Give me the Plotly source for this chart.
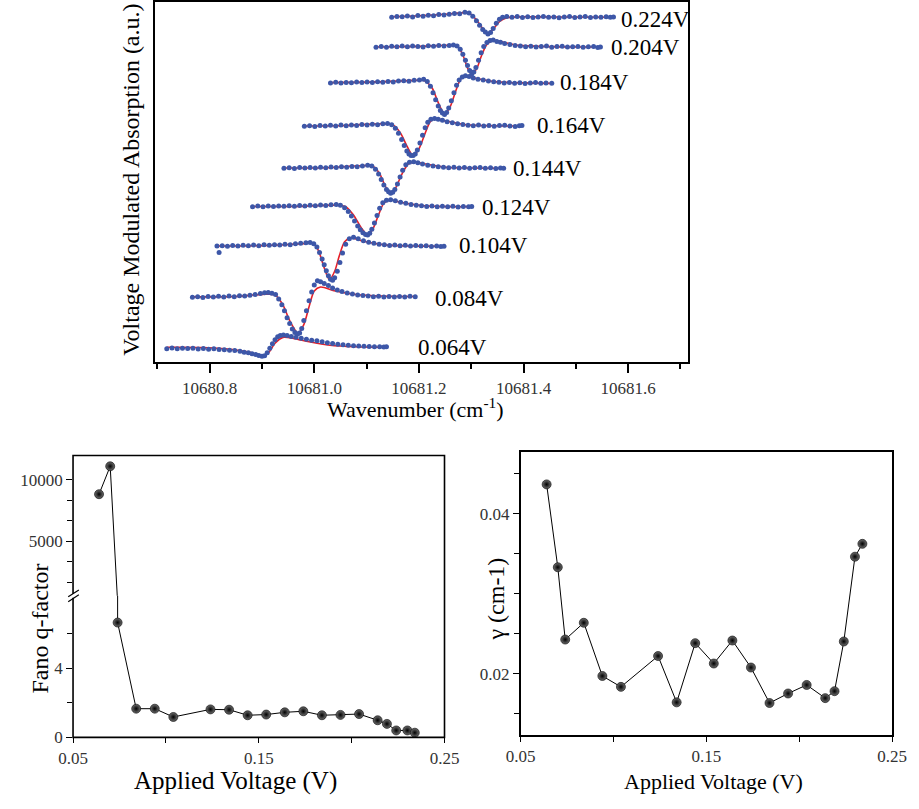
import plotly.graph_objects as go

W, H = 919, 809
FONT = "Liberation Serif"

# ---------------- Top panel: voltage-modulated spectra ----------------
voltage_labels = ["0.224V", "0.204V", "0.184V", "0.164V", "0.144V",
                  "0.124V", "0.104V", "0.084V", "0.064V"]
label_x = [10681.582, 10681.564, 10681.465, 10681.422, 10681.376,
           10681.316, 10681.273, 10681.227, 10681.195]
label_y = [347.7, 319.3, 283.3, 239.3, 196.0, 156.7, 117.7, 64.3, 14.3]

# measured points (blue) and Fano fits (red), absorption in a.u. (traces offset)
dots_x_224 = [10681.148, 10681.158, 10681.168, 10681.178, 10681.188, 10681.198, 10681.208, 10681.218,
              10681.228, 10681.238, 10681.248, 10681.258, 10681.268, 10681.278, 10681.288, 10681.296,
              10681.303, 10681.310, 10681.316, 10681.322, 10681.327, 10681.332, 10681.337, 10681.342,
              10681.348, 10681.354, 10681.360, 10681.368, 10681.378, 10681.388, 10681.398, 10681.408,
              10681.418, 10681.428, 10681.438, 10681.448, 10681.458, 10681.468, 10681.478, 10681.488,
              10681.498, 10681.508, 10681.518, 10681.528, 10681.538, 10681.548, 10681.558, 10681.566,
              10681.572]
dots_y_224 = [349.6, 350.4, 350.0, 350.8, 349.9, 351.2, 350.6, 351.5, 351.0, 352.2, 351.8, 352.6,
              353.4, 353.0, 354.5, 353.8, 350.5, 346.0, 341.5, 337.0, 334.5, 332.5, 334.0, 338.0,
              343.5, 347.5, 349.5, 350.3, 349.6, 350.2, 349.4, 350.0, 349.2, 349.8, 350.4, 349.5,
              349.9, 349.1, 349.7, 350.3, 349.4, 349.8, 350.2, 349.3, 349.9, 349.5, 350.1, 349.6, 349.9]
fit_x_224 = [10681.148, 10681.20, 10681.25, 10681.28, 10681.295, 10681.31, 10681.322, 10681.332,
             10681.342, 10681.355, 10681.37, 10681.40, 10681.45, 10681.572]
fit_y_224 = [350.0, 351.0, 352.5, 354.0, 354.2, 347.0, 338.0, 333.5, 337.5, 345.5, 349.2, 350.0,
             349.8, 349.6]

dots_x_204 = [10681.118, 10681.128, 10681.138, 10681.148, 10681.158, 10681.168, 10681.178, 10681.188,
              10681.198, 10681.208, 10681.218, 10681.228, 10681.238, 10681.248, 10681.258, 10681.266,
              10681.273, 10681.279, 10681.284, 10681.289, 10681.293, 10681.297, 10681.301, 10681.305,
              10681.309, 10681.314, 10681.319, 10681.324, 10681.330, 10681.336, 10681.342, 10681.349,
              10681.356, 10681.364, 10681.374, 10681.384, 10681.394, 10681.404, 10681.414, 10681.424,
              10681.434, 10681.444, 10681.454, 10681.464, 10681.474, 10681.484, 10681.494, 10681.504,
              10681.514, 10681.524, 10681.534, 10681.542, 10681.547]
dots_y_204 = [319.0, 319.8, 319.2, 320.1, 319.5, 320.3, 319.6, 320.4, 320.0, 319.4, 320.6, 320.1,
              320.8, 320.3, 321.0, 321.5, 320.5, 317.0, 312.0, 306.0, 300.5, 295.5, 292.0, 294.0,
              298.5, 306.0, 313.5, 320.0, 324.0, 326.0, 326.5, 325.0, 324.2, 323.0, 321.8, 321.0,
              320.5, 319.6, 320.2, 319.4, 319.9, 320.3, 319.2, 319.8, 320.1, 319.3, 319.7, 320.0,
              319.1, 319.6, 319.9, 318.9, 319.3]
fit_x_204 = [10681.118, 10681.20, 10681.26, 10681.275, 10681.285, 10681.293, 10681.301, 10681.310,
             10681.320, 10681.330, 10681.342, 10681.36, 10681.39, 10681.45, 10681.547]
fit_y_204 = [319.3, 320.0, 321.0, 319.5, 310.0, 298.0, 292.0, 297.0, 311.0, 322.0, 326.0, 324.5,
             321.0, 319.8, 319.3]

dots_x_184 = [10681.031, 10681.041, 10681.051, 10681.061, 10681.071, 10681.081, 10681.091, 10681.101,
              10681.111, 10681.121, 10681.131, 10681.141, 10681.151, 10681.161, 10681.171, 10681.181,
              10681.191, 10681.201, 10681.209, 10681.216, 10681.222, 10681.227, 10681.232, 10681.237,
              10681.241, 10681.245, 10681.249, 10681.253, 10681.257, 10681.262, 10681.267, 10681.272,
              10681.277, 10681.283, 10681.289, 10681.296, 10681.304, 10681.313, 10681.323, 10681.333,
              10681.343, 10681.353, 10681.363, 10681.373, 10681.383, 10681.393, 10681.403, 10681.413,
              10681.423, 10681.433, 10681.443, 10681.454]
dots_y_184 = [283.0, 283.6, 282.8, 283.5, 283.1, 283.9, 283.3, 284.0, 283.4, 284.2, 283.7, 284.5,
              284.0, 284.8, 285.2, 284.6, 285.6, 286.0, 286.7, 284.5, 279.5, 273.0, 266.0, 259.5,
              255.0, 252.5, 251.0, 253.0, 257.5, 265.0, 273.0, 280.5, 286.0, 289.0, 290.3, 289.5,
              288.0, 286.8, 286.0, 285.0, 284.2, 283.6, 283.0, 283.5, 282.7, 283.2, 282.4, 282.9,
              283.3, 282.5, 282.9, 282.6]
fit_x_184 = [10681.031, 10681.12, 10681.19, 10681.21, 10681.225, 10681.237, 10681.249, 10681.260,
             10681.270, 10681.280, 10681.290, 10681.31, 10681.35, 10681.40, 10681.454]
fit_y_184 = [283.3, 284.0, 285.5, 285.5, 278.0, 263.0, 251.5, 259.0, 274.0, 287.0, 290.0, 287.5,
             284.0, 283.0, 282.5]

dots_x_164 = [10680.981, 10680.991, 10681.001, 10681.011, 10681.021, 10681.031, 10681.041, 10681.051,
              10681.061, 10681.071, 10681.081, 10681.091, 10681.101, 10681.111, 10681.121, 10681.131,
              10681.140, 10681.148, 10681.155, 10681.161, 10681.167, 10681.172, 10681.177, 10681.181,
              10681.185, 10681.189, 10681.193, 10681.197, 10681.202, 10681.207, 10681.212, 10681.217,
              10681.223, 10681.230, 10681.237, 10681.245, 10681.254, 10681.264, 10681.274, 10681.284,
              10681.294, 10681.304, 10681.314, 10681.324, 10681.334, 10681.344, 10681.354, 10681.364,
              10681.374, 10681.384, 10681.392, 10681.397]
dots_y_164 = [239.0, 239.6, 238.9, 239.7, 239.2, 240.0, 239.4, 240.2, 239.6, 240.4, 239.9, 240.8,
              240.2, 241.0, 240.6, 241.5, 241.8, 240.5, 237.0, 232.0, 225.5, 219.5, 214.0, 211.0,
              209.5, 209.3, 211.0, 215.0, 222.0, 230.0, 237.5, 243.0, 246.0, 247.0, 246.2, 245.0,
              243.6, 242.5, 241.5, 240.8, 240.0, 239.5, 240.2, 239.3, 239.8, 239.1, 239.7, 240.0,
              239.2, 238.8, 239.6, 239.9]
fit_x_164 = [10680.981, 10681.06, 10681.13, 10681.150, 10681.165, 10681.178, 10681.189, 10681.200,
             10681.212, 10681.222, 10681.232, 10681.25, 10681.29, 10681.34, 10681.397]
fit_y_164 = [239.3, 239.8, 241.5, 240.5, 232.0, 218.0, 209.5, 216.0, 232.0, 244.0, 246.7, 244.5,
             240.5, 239.5, 239.3]

dots_x_144 = [10680.942, 10680.952, 10680.962, 10680.972, 10680.982, 10680.992, 10681.002, 10681.012,
              10681.022, 10681.032, 10681.042, 10681.052, 10681.062, 10681.072, 10681.082, 10681.092,
              10681.102, 10681.110, 10681.117, 10681.123, 10681.128, 10681.133, 10681.138, 10681.142,
              10681.146, 10681.150, 10681.154, 10681.159, 10681.164, 10681.169, 10681.175, 10681.182,
              10681.190, 10681.198, 10681.207, 10681.217, 10681.227, 10681.237, 10681.247, 10681.257,
              10681.267, 10681.277, 10681.287, 10681.297, 10681.307, 10681.317, 10681.327, 10681.337,
              10681.347, 10681.356, 10681.362]
dots_y_144 = [196.4, 197.0, 196.3, 197.1, 196.6, 197.3, 196.8, 197.5, 196.9, 197.6, 197.2, 198.0,
              197.5, 198.3, 198.0, 198.8, 199.4, 198.8, 195.5, 190.5, 185.0, 179.5, 175.0, 172.5,
              171.2, 172.0, 175.0, 180.5, 187.5, 194.5, 200.0, 202.5, 203.0, 202.0, 200.8, 199.6,
              198.8, 198.0, 197.5, 196.9, 197.4, 196.6, 197.2, 196.4, 196.9, 197.3, 196.5, 196.9,
              196.3, 196.8, 196.5]
fit_x_144 = [10680.942, 10681.02, 10681.09, 10681.112, 10681.125, 10681.136, 10681.146, 10681.156,
             10681.167, 10681.180, 10681.192, 10681.21, 10681.25, 10681.30, 10681.362]
fit_y_144 = [196.7, 197.0, 199.0, 198.5, 191.0, 178.0, 171.5, 177.0, 190.0, 201.0, 202.7, 201.0,
             197.5, 196.7, 196.5]

dots_x_124 = [10680.882, 10680.892, 10680.902, 10680.912, 10680.922, 10680.932, 10680.942, 10680.952,
              10680.962, 10680.972, 10680.982, 10680.992, 10681.002, 10681.012, 10681.022, 10681.032,
              10681.042, 10681.050, 10681.058, 10681.065, 10681.071, 10681.077, 10681.083, 10681.088,
              10681.093, 10681.098, 10681.102, 10681.106, 10681.110, 10681.115, 10681.120, 10681.125,
              10681.131, 10681.138, 10681.146, 10681.155, 10681.165, 10681.175, 10681.185, 10681.195,
              10681.205, 10681.215, 10681.225, 10681.235, 10681.245, 10681.255, 10681.265, 10681.275,
              10681.285, 10681.295, 10681.301]
dots_y_124 = [157.5, 158.1, 157.4, 158.2, 157.6, 158.3, 157.8, 158.5, 157.9, 158.6, 158.1, 158.9,
              158.4, 159.2, 158.7, 159.5, 159.8, 159.0, 156.5, 152.5, 148.0, 143.0, 138.0, 134.0,
              131.0, 129.3, 128.8, 130.5, 134.5, 141.0, 148.5, 156.0, 161.5, 164.0, 164.5, 163.5,
              162.0, 161.0, 159.8, 159.0, 158.4, 157.7, 158.3, 157.5, 158.0, 157.3, 157.8, 157.2,
              157.7, 157.3, 157.6]
fit_x_124 = [10680.882, 10680.96, 10681.04, 10681.060, 10681.075, 10681.090, 10681.102, 10681.112,
             10681.122, 10681.133, 10681.145, 10681.165, 10681.21, 10681.26, 10681.301]
fit_y_124 = [157.7, 157.7, 159.0, 157.5, 149.0, 136.0, 129.0, 135.0, 148.0, 161.0, 164.3, 162.0,
             158.5, 157.5, 157.5]

dots_x_104 = [10680.814, 10680.818, 10680.824, 10680.834, 10680.844, 10680.854, 10680.864, 10680.874,
              10680.884, 10680.894, 10680.904, 10680.914, 10680.924, 10680.934, 10680.944, 10680.954,
              10680.964, 10680.974, 10680.984, 10680.992, 10680.999, 10681.005, 10681.010, 10681.015,
              10681.019, 10681.023, 10681.027, 10681.031, 10681.035, 10681.039, 10681.044, 10681.049,
              10681.054, 10681.060, 10681.067, 10681.075, 10681.084, 10681.094, 10681.104, 10681.114,
              10681.124, 10681.134, 10681.144, 10681.154, 10681.164, 10681.174, 10681.184, 10681.194,
              10681.204, 10681.214, 10681.224, 10681.234, 10681.242, 10681.248]
dots_y_104 = [117.5, 111.0, 118.0, 117.4, 118.2, 117.6, 118.4, 117.8, 118.6, 118.0, 118.8, 118.3,
              119.0, 118.6, 119.4, 119.0, 119.8, 120.3, 120.8, 121.2, 120.0, 116.5, 111.0, 104.5,
              98.5, 92.5, 87.5, 84.0, 83.0, 85.5, 92.0, 101.0, 110.5, 119.5, 125.0, 126.5, 125.0,
              123.0, 121.5, 120.3, 119.5, 118.8, 118.2, 118.7, 117.9, 118.4, 117.6, 118.1, 117.5,
              117.9, 117.2, 117.6, 117.0, 117.4]
fit_x_104 = [10680.814, 10680.90, 10680.98, 10680.998, 10681.008, 10681.018, 10681.029, 10681.039,
             10681.048, 10681.058, 10681.070, 10681.09, 10681.14, 10681.20, 10681.248]
fit_y_104 = [117.7, 118.0, 120.0, 120.5, 113.0, 97.0, 83.5, 92.0, 108.0, 122.0, 126.0, 123.0,
             118.5, 117.5, 117.3]

dots_x_084 = [10680.767, 10680.777, 10680.787, 10680.797, 10680.807, 10680.817, 10680.827, 10680.837,
              10680.847, 10680.857, 10680.867, 10680.877, 10680.887, 10680.897, 10680.905, 10680.912,
              10680.919, 10680.926, 10680.932, 10680.938, 10680.943, 10680.948, 10680.953, 10680.958,
              10680.963, 10680.968, 10680.972, 10680.976, 10680.980, 10680.985, 10680.990, 10680.995,
              10681.000, 10681.006, 10681.012, 10681.019, 10681.027, 10681.035, 10681.044, 10681.053,
              10681.063, 10681.073, 10681.083, 10681.093, 10681.103, 10681.113, 10681.123, 10681.133,
              10681.143, 10681.153, 10681.163, 10681.173, 10681.183, 10681.193]
dots_y_084 = [65.7, 66.3, 65.5, 66.4, 65.8, 66.6, 66.0, 66.9, 66.3, 67.2, 66.9, 67.8, 68.5, 69.5,
              70.2, 70.5, 69.8, 68.5, 64.0, 58.0, 52.0, 45.0, 39.0, 33.5, 30.0, 28.5, 29.5, 34.0,
              42.0, 52.0, 62.0, 71.0, 78.0, 82.5, 81.5, 79.5, 77.5, 75.0, 73.0, 71.5, 70.0, 69.0,
              68.0, 67.5, 67.0, 66.3, 66.8, 66.0, 66.5, 65.8, 66.4, 65.9, 66.6, 66.2]
fit_x_084 = [10680.767, 10680.85, 10680.90, 10680.925, 10680.940, 10680.953, 10680.969, 10680.980,
             10680.990, 10681.000, 10681.012, 10681.04, 10681.08, 10681.13, 10681.193]
fit_y_084 = [66.0, 66.5, 68.5, 68.0, 58.0, 42.0, 29.5, 38.0, 56.0, 72.0, 76.0, 72.0, 68.5, 67.0, 66.5]

dots_x_064 = [10680.718, 10680.728, 10680.738, 10680.748, 10680.758, 10680.768, 10680.778, 10680.788,
              10680.798, 10680.808, 10680.818, 10680.828, 10680.838, 10680.848, 10680.858, 10680.866,
              10680.874, 10680.881, 10680.888, 10680.894, 10680.900, 10680.905, 10680.910, 10680.915,
              10680.920, 10680.925, 10680.930, 10680.935, 10680.941, 10680.948, 10680.956, 10680.965,
              10680.975, 10680.985, 10680.995, 10681.005, 10681.015, 10681.025, 10681.035, 10681.045,
              10681.055, 10681.065, 10681.075, 10681.085, 10681.095, 10681.105, 10681.115, 10681.125,
              10681.133, 10681.138]
dots_y_064 = [13.5, 14.2, 13.4, 14.0, 13.6, 13.9, 13.2, 13.7, 13.0, 13.4, 12.8, 12.5, 12.0, 11.6,
              10.8, 10.0, 9.4, 8.4, 7.6, 6.6, 5.8, 6.4, 9.5, 14.0, 18.5, 22.5, 25.5, 27.0, 27.5,
              26.8, 26.0, 25.0, 24.0, 23.0, 22.2, 21.5, 20.5, 19.6, 18.8, 18.0, 17.4, 17.0, 16.6,
              16.2, 16.0, 15.7, 15.4, 15.5, 15.3, 15.6]
fit_x_064 = [10680.718, 10680.78, 10680.84, 10680.875, 10680.900, 10680.912, 10680.925, 10680.940,
             10680.96, 10680.99, 10681.03, 10681.08, 10681.138]
fit_y_064 = [15.0, 14.8, 13.0, 10.0, 6.5, 9.0, 19.0, 25.0, 24.0, 20.5, 17.0, 15.5, 15.0]

spectra = [
    (dots_x_224, dots_y_224, fit_x_224, fit_y_224),
    (dots_x_204, dots_y_204, fit_x_204, fit_y_204),
    (dots_x_184, dots_y_184, fit_x_184, fit_y_184),
    (dots_x_164, dots_y_164, fit_x_164, fit_y_164),
    (dots_x_144, dots_y_144, fit_x_144, fit_y_144),
    (dots_x_124, dots_y_124, fit_x_124, fit_y_124),
    (dots_x_104, dots_y_104, fit_x_104, fit_y_104),
    (dots_x_084, dots_y_084, fit_x_084, fit_y_084),
    (dots_x_064, dots_y_064, fit_x_064, fit_y_064),
]

top_xticks = [10680.8, 10681.0, 10681.2, 10681.4, 10681.6]
top_xticktext = ["10680.8", "10681.0", "10681.2", "10681.4", "10681.6"]

# ---------------- Bottom panels ----------------
voltage = [0.064, 0.070, 0.074, 0.084, 0.094, 0.104, 0.124, 0.134, 0.144, 0.154,
           0.164, 0.174, 0.184, 0.194, 0.204, 0.214, 0.219, 0.224, 0.230, 0.234]
q_factor = [8834, 11109, 6.65, 1.66, 1.66, 1.18, 1.62, 1.60, 1.28, 1.32,
            1.45, 1.51, 1.28, 1.30, 1.35, 0.99, 0.78, 0.40, 0.40, 0.27]
gamma = [0.0437, 0.03333, 0.02428, 0.02638, 0.01972, 0.01836, 0.02222, 0.01642, 0.02383, 0.02128,
         0.02416, 0.02078, 0.01634, 0.01753, 0.0186, 0.01695, 0.01782, 0.02404, 0.03465, 0.03626]

v_ticks = [0.05, 0.15, 0.25]
v_ticktext = ["0.05", "0.15", "0.25"]
q_low_ticks = [0, 4]
q_low_minor = [2, 6]
q_high_ticks = [5000, 10000]
q_high_ticktext = ["5000", "10000"]
q_high_minor = [1667, 3333, 6667, 8333]
g_ticks = [0.02, 0.04]
g_ticktext = ["0.02", "0.04"]

# ---------------- helpers for layout (pixel -> paper) ----------------
def px(x):
    return x / W

def py(y):
    return 1 - y / H

fig = go.Figure()

DOT_BLUE = "#3d57a8"
FIT_RED = "#e5202a"

for dx, dy, fx, fy in spectra:
    fig.add_trace(go.Scatter(x=fx, y=fy, mode="lines",
                             line=dict(color=FIT_RED, width=1.6, shape="spline", smoothing=0.8),
                             xaxis="x", yaxis="y", showlegend=False, hoverinfo="skip"))
    fig.add_trace(go.Scatter(x=dx, y=dy, mode="markers", marker=dict(color=DOT_BLUE, size=5),
                             xaxis="x", yaxis="y", showlegend=False))

sphere = dict(color="#6e6e6e", size=9, gradient=dict(type="radial", color="#000000"),
              line=dict(width=0.6, color="#000000"))

# Fano q-factor: broken axis -> same series on the low and high segments, clipped to each
fig.add_trace(go.Scatter(x=voltage, y=q_factor, mode="lines+markers", line=dict(color="black", width=1),
                         marker=sphere, xaxis="x2", yaxis="y2", showlegend=False))
fig.add_trace(go.Scatter(x=voltage, y=q_factor, mode="lines+markers", line=dict(color="black", width=1),
                         marker=sphere, xaxis="x2", yaxis="y3", showlegend=False))
# gamma
fig.add_trace(go.Scatter(x=voltage, y=gamma, mode="lines+markers", line=dict(color="black", width=1),
                         marker=sphere, xaxis="x3", yaxis="y4", showlegend=False))

tickfont = dict(family=FONT, size=17, color="#333333")

# top panel frame (px)
TL, TR, TT, TB = 145, 696, 1, 366
# bottom-left
BL_L, BL_R, BL_T, BL_B = 60, 444, 460.7, 746.5
BREAK = 603
# bottom-right
BR_L, BR_R, BR_T, BR_B = 522.7, 906.7, 457, 744

q_low_top = (BL_B - BREAK) / 17.5
q_high_bottom = 5000 - (BREAK - 547.7) / 62.2 * 5000
q_high_top = 10000 + (485.5 - BL_T) / 62.2 * 5000

fig.update_layout(
    width=W, height=H, margin=dict(l=0, r=0, t=0, b=0),
    paper_bgcolor="white", plot_bgcolor="white",
    font=dict(family=FONT, color="black"),
    xaxis=dict(domain=[px(TL), px(TR)], range=[10680.696, 10681.715], anchor="y",
               tickmode="array", tickvals=top_xticks, ticktext=top_xticktext,
               ticks="outside", ticklen=9, tickwidth=2, tickcolor="black",
               minor=dict(dtick=0.1, tick0=10680.7, ticks="outside", ticklen=5, tickwidth=1.5, tickcolor="black"),
               showline=True, linewidth=2.2, linecolor="black", mirror=True,
               showgrid=False, zeroline=False, tickfont=tickfont),
    yaxis=dict(domain=[py(TB), py(TT)], range=[0, 365], anchor="x",
               showticklabels=False, ticks="", showline=True, linewidth=2.2, linecolor="black",
               mirror=True, showgrid=False, zeroline=False),
    xaxis2=dict(domain=[px(BL_L), px(BL_R)], range=[0.05, 0.25], anchor="y2",
                tickmode="array", tickvals=v_ticks, ticktext=v_ticktext,
                ticks="outside", ticklen=5, tickcolor="black",
                minor=dict(dtick=0.05, tick0=0.05, ticks="outside", ticklen=5, tickcolor="black"),
                showline=False, showgrid=False, zeroline=False, tickfont=tickfont),
    yaxis2=dict(domain=[py(BL_B), py(BREAK)], range=[0, q_low_top], anchor="x2",
                tickmode="array", tickvals=q_low_ticks, ticks="outside", ticklen=6, tickcolor="black",
                minor=dict(tickmode="array", tickvals=q_low_minor, ticks="outside", ticklen=5, tickcolor="black"),
                showline=False, showgrid=False, zeroline=False, tickfont=tickfont),
    yaxis3=dict(domain=[py(BREAK), py(BL_T)], range=[q_high_bottom, q_high_top], anchor="x2",
                tickmode="array", tickvals=q_high_ticks, ticktext=q_high_ticktext,
                ticks="outside", ticklen=6, tickcolor="black",
                minor=dict(tickmode="array", tickvals=q_high_minor, ticks="outside", ticklen=5, tickcolor="black"),
                showline=False, showgrid=False, zeroline=False, tickfont=tickfont),
    xaxis3=dict(domain=[px(BR_L), px(BR_R)], range=[0.05, 0.25], anchor="y4",
                tickmode="array", tickvals=v_ticks, ticktext=v_ticktext,
                ticks="outside", ticklen=5, tickcolor="black",
                minor=dict(dtick=0.05, tick0=0.05, ticks="outside", ticklen=5, tickcolor="black"),
                showline=True, linewidth=1.5, linecolor="black", mirror=True,
                showgrid=False, zeroline=False, tickfont=tickfont),
    yaxis4=dict(domain=[py(BR_B), py(BR_T)], range=[0.01235, 0.04778], anchor="x3",
                tickmode="array", tickvals=g_ticks, ticktext=g_ticktext,
                ticks="outside", ticklen=6, tickcolor="black",
                minor=dict(dtick=0.005, tick0=0.0, ticks="outside", ticklen=5, tickcolor="black"),
                showline=True, linewidth=1.5, linecolor="black", mirror=True,
                showgrid=False, zeroline=False, tickfont=tickfont),
)

# frame of the broken-axis panel and the break mark
fig.add_shape(type="rect", xref="paper", yref="paper", x0=px(BL_L), x1=px(BL_R), y0=py(BL_B), y1=py(BL_T),
              line=dict(color="black", width=1.6), fillcolor="rgba(0,0,0,0)", layer="above")
fig.add_shape(type="rect", xref="paper", yref="paper", x0=px(BL_L - 2), x1=px(BL_L + 2), y0=py(BREAK + 2),
              y1=py(BREAK - 2), line=dict(width=0), fillcolor="white", layer="above")
fig.add_shape(type="line", xref="paper", yref="paper", x0=px(55), y0=py(BREAK + 1), x1=px(66), y1=py(BREAK - 6),
              line=dict(color="black", width=1.2), layer="above")
fig.add_shape(type="line", xref="paper", yref="paper", x0=px(55), y0=py(BREAK + 6), x1=px(66), y1=py(BREAK - 1),
              line=dict(color="black", width=1.2), layer="above")

# voltage labels of the spectra
for t, lx, ly in zip(voltage_labels, label_x, label_y):
    fig.add_annotation(x=lx, y=ly, xref="x", yref="y", text=t, showarrow=False,
                       xanchor="left", yanchor="middle", font=dict(family=FONT, size=23, color="black"))

# axis titles
def title(text, x, y, size, angle=0):
    fig.add_annotation(x=px(x), y=py(y), xref="paper", yref="paper", text=text, showarrow=False,
                       xanchor="center", yanchor="middle", textangle=angle,
                       font=dict(family=FONT, size=size, color="black"))

title("Wavenumber (cm<sup>-1</sup>)", 414, 413, 22)
title("Voltage Modulated Absorption (a.u.)", 119, 181, 24, -90)
title("Applied Voltage (V)", 227.5, 791, 25)
title("Fano q-factor", 26, 636, 24, -90)
title("Applied Voltage (V)", 721.7, 791, 22)
title("γ (cm-1)", 497, 606, 24, -90)

fig.write_html("out.html", config={"displayModeBar": False},
               post_script="document.body.style.margin='0';")
